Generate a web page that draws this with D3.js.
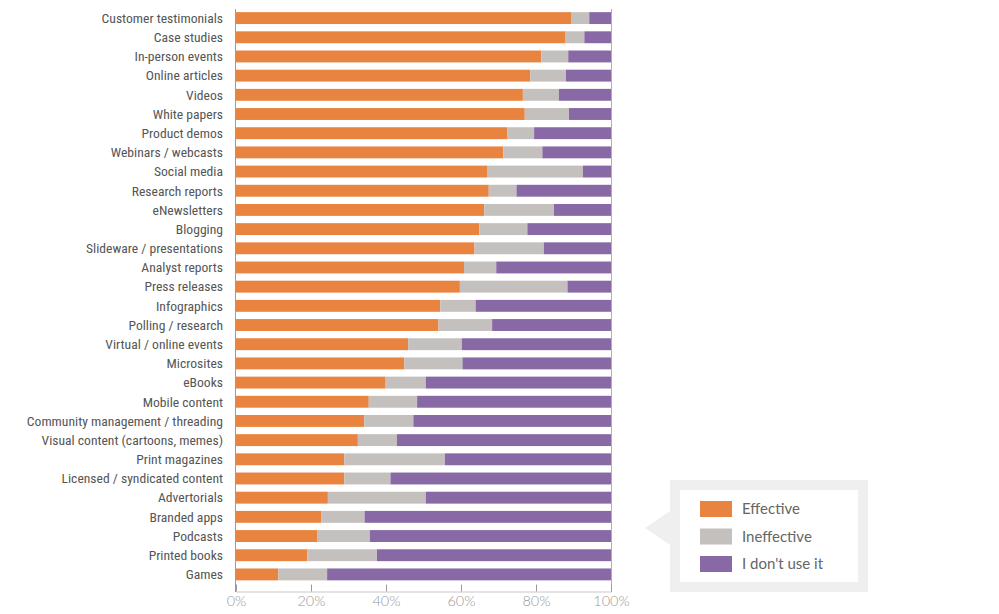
<!DOCTYPE html>
<html><head><meta charset="utf-8">
<script src="https://cdn.jsdelivr.net/npm/d3@7"></script>
<style>body{margin:0;background:#fff;}svg{display:block;}</style>
</head><body>
<svg id="chart" width="999" height="614"></svg>
<script>
const categories = ["Customer testimonials","Case studies","In-person events","Online articles","Videos","White papers","Product demos","Webinars / webcasts","Social media","Research reports","eNewsletters","Blogging","Slideware / presentations","Analyst reports","Press releases","Infographics","Polling / research","Virtual / online events","Microsites","eBooks","Mobile content","Community management / threading","Visual content (cartoons, memes)","Print magazines","Licensed / syndicated content","Advertorials","Branded apps","Podcasts","Printed books","Games"];
const effective   = [89.5,87.9,81.4,78.5,76.5,77.0,72.4,71.3,67.1,67.4,66.2,64.9,63.6,60.8,59.7,54.5,54.0,45.9,44.9,39.9,35.4,34.2,32.5,28.9,28.9,24.5,22.8,21.6,19.0,11.3];
const ineffective = [4.7,5.0,7.2,9.5,9.6,11.8,7.1,10.4,25.4,7.4,18.6,12.8,18.5,8.6,28.7,9.4,14.3,14.3,15.5,10.7,12.9,13.1,10.4,26.8,12.3,26.1,11.5,14.1,18.6,13.0];
const notUsed     = categories.map((c,i)=>+(100-effective[i]-ineffective[i]).toFixed(1));
const seriesNames = ["Effective","Ineffective","I don't use it"];
const colors = ["#E8843F","#C4C0BE","#8869A5"];
const tickValues = [0,20,40,60,80,100];

const rows = categories.map((c,i)=>({cat:c, "Effective":effective[i], "Ineffective":ineffective[i], "I don't use it":notUsed[i]}));
const stack = d3.stack().keys(seriesNames)(rows);

const svg = d3.select("#chart");
const x = d3.scaleLinear().domain([0,100]).range([236,611]);
const y = d3.scaleBand().domain(categories).range([8.5,584]).paddingInner(0.38).paddingOuter(0.19);
const color = d3.scaleOrdinal().domain(seriesNames).range(colors);

svg.append("g").selectAll("g").data(stack).join("g")
  .attr("fill", d=>color(d.key))
  .selectAll("rect").data(d=>d).join("rect")
  .attr("x", d=>x(d[0])).attr("width", d=>x(d[1])-x(d[0]))
  .attr("y", d=>y(d.data.cat)).attr("height", y.bandwidth());

// vertical lines
svg.append("line").attr("x1",235.5).attr("x2",235.5).attr("y1",9).attr("y2",592).attr("stroke","#9a9a9a").attr("stroke-width",1);
svg.append("line").attr("x1",611.5).attr("x2",611.5).attr("y1",9).attr("y2",592).attr("stroke","#b0b0b0").attr("stroke-width",1);

// category labels
svg.append("g").selectAll("text").data(categories).join("text")
  .attr("x",223).attr("y",d=>y(d)+y.bandwidth()/2).attr("dy","0.35em")
  .attr("text-anchor","end")
  .attr("font-family","'Liberation Sans Narrow','Roboto Condensed','DejaVu Sans Condensed',sans-serif")
  .attr("font-size",13.6).attr("fill","#555").text(d=>d);

// x axis
const ax = svg.append("g").attr("transform","translate(0,591.5)")
  .call(d3.axisBottom(x).tickValues(tickValues).tickFormat(d=>d+"%").tickSize(-7).tickSizeOuter(0).tickPadding(4));
ax.select(".domain").attr("stroke","#c8c8c8");
ax.selectAll(".tick line").attr("stroke","#9a9a9a");
ax.selectAll(".tick text").attr("font-family","Lato,'Open Sans',sans-serif").attr("font-weight",300)
  .attr("font-size",14.5).attr("fill","#999").attr("y",10).attr("dy","0.32em");

// legend
const lg = svg.append("g");
lg.append("path").attr("d","M670,511 L645,528 L670,545 Z").attr("fill","#efefef");
lg.append("rect").attr("x",675).attr("y",485).attr("width",188).attr("height",102)
  .attr("fill","#fff").attr("stroke","#efefef").attr("stroke-width",10);
const items = lg.selectAll("g.item").data(seriesNames).join("g").attr("class","item")
  .attr("transform",(d,i)=>`translate(700,${501+i*27.5})`);
items.append("rect").attr("width",32).attr("height",16).attr("fill",d=>color(d));
items.append("text").attr("x",42).attr("y",8).attr("dy","0.36em")
  .attr("font-family","Lato,'Open Sans',sans-serif").attr("font-weight",400)
  .attr("font-size",15).attr("fill","#666").text(d=>d);
</script>
</body></html>
